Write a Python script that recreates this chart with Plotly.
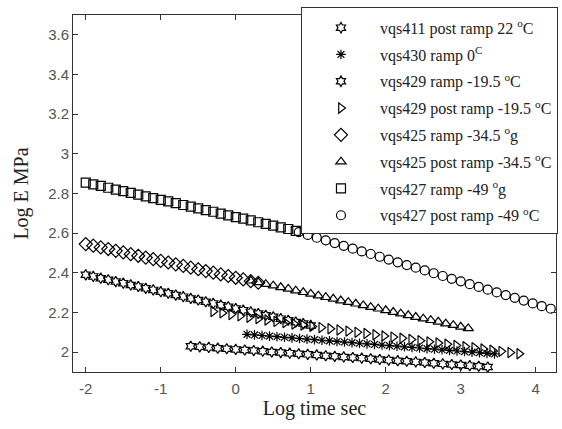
import plotly.graph_objects as go

# log10(time / s) and log10(E / MPa) for each creep run
x_411_post = [-0.60, -0.48, -0.36, -0.24, -0.12, 0.00, 0.12, 0.24, 0.36, 0.48, 0.60, 0.72,
              0.84, 0.96, 1.08, 1.20, 1.32, 1.44, 1.56, 1.68, 1.80, 1.92, 2.04, 2.16,
              2.28, 2.40, 2.52, 2.64, 2.76, 2.88, 3.00, 3.12, 3.24, 3.36]
y_411_post = [2.030, 2.027, 2.024, 2.020, 2.017, 2.014, 2.011, 2.008, 2.005, 2.001, 1.998, 1.995,
              1.992, 1.989, 1.986, 1.982, 1.979, 1.976, 1.973, 1.970, 1.967, 1.963, 1.960, 1.957,
              1.954, 1.951, 1.948, 1.944, 1.941, 1.938, 1.935, 1.932, 1.929, 1.925]

x_430_ramp = [0.15, 0.25, 0.35, 0.45, 0.55, 0.65, 0.75, 0.85, 0.95, 1.05, 1.15, 1.25,
              1.35, 1.45, 1.55, 1.65, 1.75, 1.85, 1.95, 2.05, 2.15, 2.25, 2.35, 2.45,
              2.55, 2.65, 2.75, 2.85, 2.95, 3.05, 3.15, 3.25, 3.35, 3.45]
y_430_ramp = [2.090, 2.087, 2.084, 2.081, 2.078, 2.075, 2.072, 2.069, 2.066, 2.063, 2.060, 2.057,
              2.054, 2.051, 2.048, 2.045, 2.042, 2.039, 2.036, 2.033, 2.030, 2.027, 2.024, 2.021,
              2.018, 2.015, 2.012, 2.009, 2.006, 2.003, 2.000, 1.997, 1.994, 1.991]

x_429_ramp = [-2.0, -1.9, -1.8, -1.7, -1.6, -1.5, -1.4, -1.3, -1.2, -1.1, -1.0, -0.9,
              -0.8, -0.7, -0.6, -0.5, -0.4, -0.3, -0.2, -0.1, 0.0, 0.1, 0.2, 0.3,
              0.4, 0.5, 0.6, 0.7, 0.8, 0.9, 1.0]
y_429_ramp = [2.390, 2.382, 2.373, 2.365, 2.356, 2.348, 2.339, 2.331, 2.322, 2.314, 2.305, 2.297,
              2.288, 2.280, 2.271, 2.263, 2.254, 2.246, 2.237, 2.229, 2.220, 2.212, 2.203, 2.195,
              2.186, 2.178, 2.169, 2.161, 2.152, 2.144, 2.135]

x_429_post = [-0.30, -0.18, -0.06, 0.06, 0.18, 0.30, 0.42, 0.54, 0.66, 0.78, 0.90, 1.02,
              1.14, 1.26, 1.38, 1.50, 1.62, 1.74, 1.86, 1.98, 2.10, 2.22, 2.34, 2.46,
              2.58, 2.70, 2.82, 2.94, 3.06, 3.18, 3.30, 3.42, 3.54, 3.66, 3.78]
y_429_post = [2.205, 2.198, 2.190, 2.183, 2.176, 2.169, 2.162, 2.155, 2.149, 2.142, 2.136, 2.130,
              2.124, 2.118, 2.112, 2.106, 2.100, 2.094, 2.088, 2.082, 2.076, 2.070, 2.064, 2.058,
              2.052, 2.046, 2.040, 2.034, 2.028, 2.022, 2.016, 2.010, 2.004, 1.998, 1.992]

x_425_ramp = [-2.0, -1.9, -1.8, -1.7, -1.6, -1.5, -1.4, -1.3, -1.2, -1.1, -1.0, -0.9,
              -0.8, -0.7, -0.6, -0.5, -0.4, -0.3, -0.2, -0.1, 0.0, 0.1, 0.2, 0.3]
y_425_ramp = [2.545, 2.537, 2.528, 2.520, 2.511, 2.503, 2.494, 2.486, 2.477, 2.469, 2.460, 2.452,
              2.443, 2.435, 2.426, 2.418, 2.409, 2.401, 2.392, 2.384, 2.375, 2.367, 2.358, 2.350]

x_425_post = [0.2, 0.3, 0.4, 0.5, 0.6, 0.7, 0.8, 0.9, 1.0, 1.1, 1.2, 1.3, 1.4, 1.5, 1.6,
              1.7, 1.8, 1.9, 2.0, 2.1, 2.2, 2.3, 2.4, 2.5, 2.6, 2.7, 2.8, 2.9, 3.0, 3.1]
y_425_post = [2.360, 2.352, 2.343, 2.335, 2.327, 2.319, 2.310, 2.302, 2.294, 2.285, 2.277, 2.269,
              2.260, 2.252, 2.244, 2.236, 2.227, 2.219, 2.211, 2.202, 2.194, 2.186, 2.177, 2.169,
              2.161, 2.153, 2.144, 2.136, 2.128, 2.120]

x_427_ramp = [-2.0, -1.9, -1.8, -1.7, -1.6, -1.5, -1.4, -1.3, -1.2, -1.1, -1.0, -0.9,
              -0.8, -0.7, -0.6, -0.5, -0.4, -0.3, -0.2, -0.1, 0.0, 0.1, 0.2, 0.3,
              0.4, 0.5, 0.6, 0.7, 0.8]
y_427_ramp = [2.855, 2.846, 2.838, 2.829, 2.820, 2.812, 2.803, 2.794, 2.786, 2.777, 2.768, 2.760,
              2.751, 2.742, 2.734, 2.725, 2.716, 2.708, 2.699, 2.690, 2.681, 2.673, 2.664, 2.655,
              2.647, 2.638, 2.629, 2.621, 2.612]

x_427_post = [0.84, 0.96, 1.08, 1.20, 1.32, 1.44, 1.56, 1.68, 1.80, 1.92, 2.04, 2.16,
              2.28, 2.40, 2.52, 2.64, 2.76, 2.88, 3.00, 3.12, 3.24, 3.36, 3.48, 3.60,
              3.72, 3.84, 3.96, 4.08, 4.20]
y_427_post = [2.605, 2.591, 2.577, 2.564, 2.550, 2.536, 2.522, 2.508, 2.495, 2.481, 2.467, 2.453,
              2.439, 2.426, 2.412, 2.398, 2.384, 2.370, 2.357, 2.343, 2.329, 2.315, 2.301, 2.288,
              2.274, 2.260, 2.246, 2.232, 2.219]

x_ticks = [-2, -1, 0, 1, 2, 3, 4]
x_tick_labels = ["-2", "-1", "0", "1", "2", "3", "4"]
y_ticks = [2, 2.2, 2.4, 2.6, 2.8, 3, 3.2, 3.4, 3.6]
y_tick_labels = ["2", "2.2", "2.4", "2.6", "2.8", "3", "3.2", "3.4", "3.6"]

series = [
    ("vqs411 post ramp 22 <sup>o</sup>C", x_411_post, y_411_post, "hexagram-open", 8),
    ("vqs430 ramp 0<sup>C</sup>", x_430_ramp, y_430_ramp, "asterisk-open", 8),
    ("vqs429 ramp -19.5 <sup>o</sup>C", x_429_ramp, y_429_ramp, "hexagram-open", 8),
    ("vqs429 post ramp -19.5 <sup>o</sup>C", x_429_post, y_429_post, "triangle-right-open", 9),
    ("vqs425 ramp -34.5 <sup>o</sup>g", x_425_ramp, y_425_ramp, "diamond-open", 10),
    ("vqs425 post ramp -34.5 <sup>o</sup>C", x_425_post, y_425_post, "triangle-up-open", 9),
    ("vqs427 ramp -49 <sup>o</sup>g", x_427_ramp, y_427_ramp, "square-open", 9),
    ("vqs427 post ramp -49 <sup>o</sup>C", x_427_post, y_427_post, "circle-open", 9),
]

SERIF = "Liberation Serif, Times New Roman, serif"
SANS = "Liberation Sans, Arial, sans-serif"

fig = go.Figure()
for i, (name, xs, ys, sym, size) in enumerate(series):
    fig.add_trace(go.Scatter(
        x=xs, y=ys, mode="markers", name=name, legendgroup=f"g{i}",
        marker=dict(symbol=sym, size=size, color="black",
                    line=dict(color="black", width=1.2)),
    ))

axis_common = dict(
    showline=True, linecolor="#333333", linewidth=1, mirror="all",
    ticks="inside", ticklen=5, tickcolor="#333333",
    showgrid=False, zeroline=False,
    tickfont=dict(family=SANS, size=15, color="#555555"),
)

fig.update_layout(
    width=562, height=429,
    margin=dict(l=73, r=4, t=15, b=57),
    paper_bgcolor="white", plot_bgcolor="white",
    xaxis=dict(range=[-2.17, 4.27], tickvals=x_ticks, ticktext=x_tick_labels,
               ticklabelstandoff=3,
               title=dict(text="Log time sec", standoff=4,
                          font=dict(family=SERIF, size=20, color="#222222")),
               **axis_common),
    yaxis=dict(range=[1.9, 3.7], tickvals=y_ticks, ticktext=y_tick_labels,
               title=dict(text="Log E MPa", standoff=14,
                          font=dict(family=SERIF, size=20, color="#222222")),
               **axis_common),
    legend=dict(
        x=0.472, y=1.022, xanchor="left", yanchor="top",
        bgcolor="white", bordercolor="#333333", borderwidth=1,
        font=dict(family=SERIF, size=16, color="#222222"),
        title=dict(text=" ", font=dict(size=2)),
        tracegroupgap=3, itemwidth=68, maxheight=420,
    ),
    showlegend=True,
)

fig.write_html("out.html")
